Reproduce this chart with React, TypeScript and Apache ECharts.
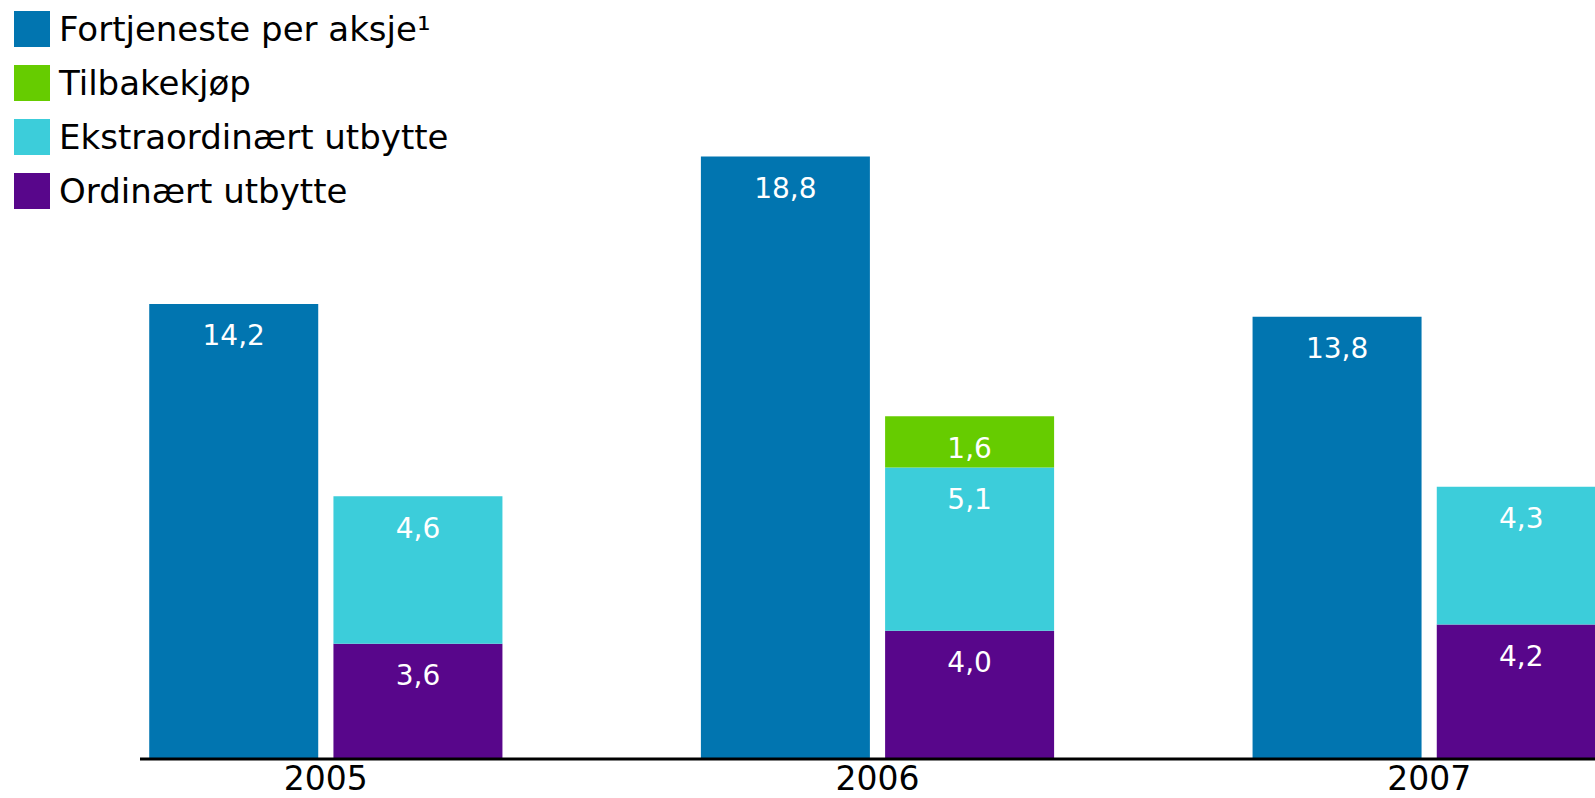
import React, { useEffect, useRef } from "react";
import * as echarts from "echarts";

const categories = ["2005", "2006", "2007"];
const earningsPerShare = [14.2, 18.8, 13.8];
const ordinaryDividend = [3.6, 4.0, 4.2];
const extraDividend = [4.6, 5.1, 4.3];
const buyback = [null, 1.6, null];

const seriesNames = {
  eps: "Fortjeneste per aksje¹",
  buyback: "Tilbakekjøp",
  extra: "Ekstraordinært utbytte",
  ordinary: "Ordinært utbytte",
};

const colors = {
  eps: "#0175B0",
  buyback: "#66CC00",
  extra: "#3CCDDA",
  ordinary: "#58068B",
};

const FONT = "DejaVu Sans, Verdana, sans-serif";

export default function App() {
  const ref = useRef<HTMLDivElement>(null);
  useEffect(() => {
    if (!ref.current) return;
    const chart = echarts.init(ref.current, null, { renderer: "svg" });
    const fmt = (p: any) =>
      p.value == null ? "" : Number(p.value).toFixed(1).replace(".", ",");
    const label = {
      show: true,
      position: "insideTop",
      distance: 18,
      color: "#ffffff",
      fontSize: 28,
      fontFamily: FONT,
      formatter: fmt,
    };
    const barWidth = 169;
    const barGap = "9%";
    chart.setOption({
      animation: false,
      legend: {
        orient: "vertical",
        left: 14,
        top: 11,
        padding: 0,
        itemWidth: 36,
        itemHeight: 36,
        itemGap: 18,
        icon: "rect",
        selectedMode: false,
        textStyle: { fontSize: 34, fontFamily: FONT, color: "#000", padding: [0, 0, 0, 4] },
        data: [seriesNames.eps, seriesNames.buyback, seriesNames.extra, seriesNames.ordinary],
      },
      grid: {
        left: 50,
        right: -110,
        top: 22,
        bottom: 39,
        containLabel: false,
        outerBoundsMode: "none",
      },
      xAxis: {
        type: "category",
        data: categories,
        axisLine: { show: false },
        axisTick: { show: false },
        axisLabel: { color: "#000", fontSize: 33, lineHeight: 33, fontFamily: FONT, margin: 3 },
      },
      yAxis: { type: "value", min: 0, max: 23, show: false, splitLine: { show: false } },
      graphic: [
        {
          type: "line",
          shape: { x1: 140, y1: 759, x2: 1595, y2: 759 },
          style: { stroke: "#000", lineWidth: 3 },
          z: 10,
        },
      ],
      series: [
        {
          name: seriesNames.eps,
          type: "bar",
          stack: "eps",
          data: earningsPerShare,
          barWidth,
          barGap,
          itemStyle: { color: colors.eps },
          label,
        },
        {
          name: seriesNames.ordinary,
          type: "bar",
          stack: "pay",
          data: ordinaryDividend,
          barWidth,
          barGap,
          itemStyle: { color: colors.ordinary },
          label,
        },
        {
          name: seriesNames.extra,
          type: "bar",
          stack: "pay",
          data: extraDividend,
          barWidth,
          barGap,
          itemStyle: { color: colors.extra },
          label,
        },
        {
          name: seriesNames.buyback,
          type: "bar",
          stack: "pay",
          data: buyback,
          barWidth,
          barGap,
          itemStyle: { color: colors.buyback },
          label,
        },
      ],
    });
    return () => chart.dispose();
  }, []);
  return (
    <div
      ref={ref}
      style={{ position: "fixed", left: 0, top: 0, width: 1595, height: 798, background: "#fff" }}
    />
  );
}
